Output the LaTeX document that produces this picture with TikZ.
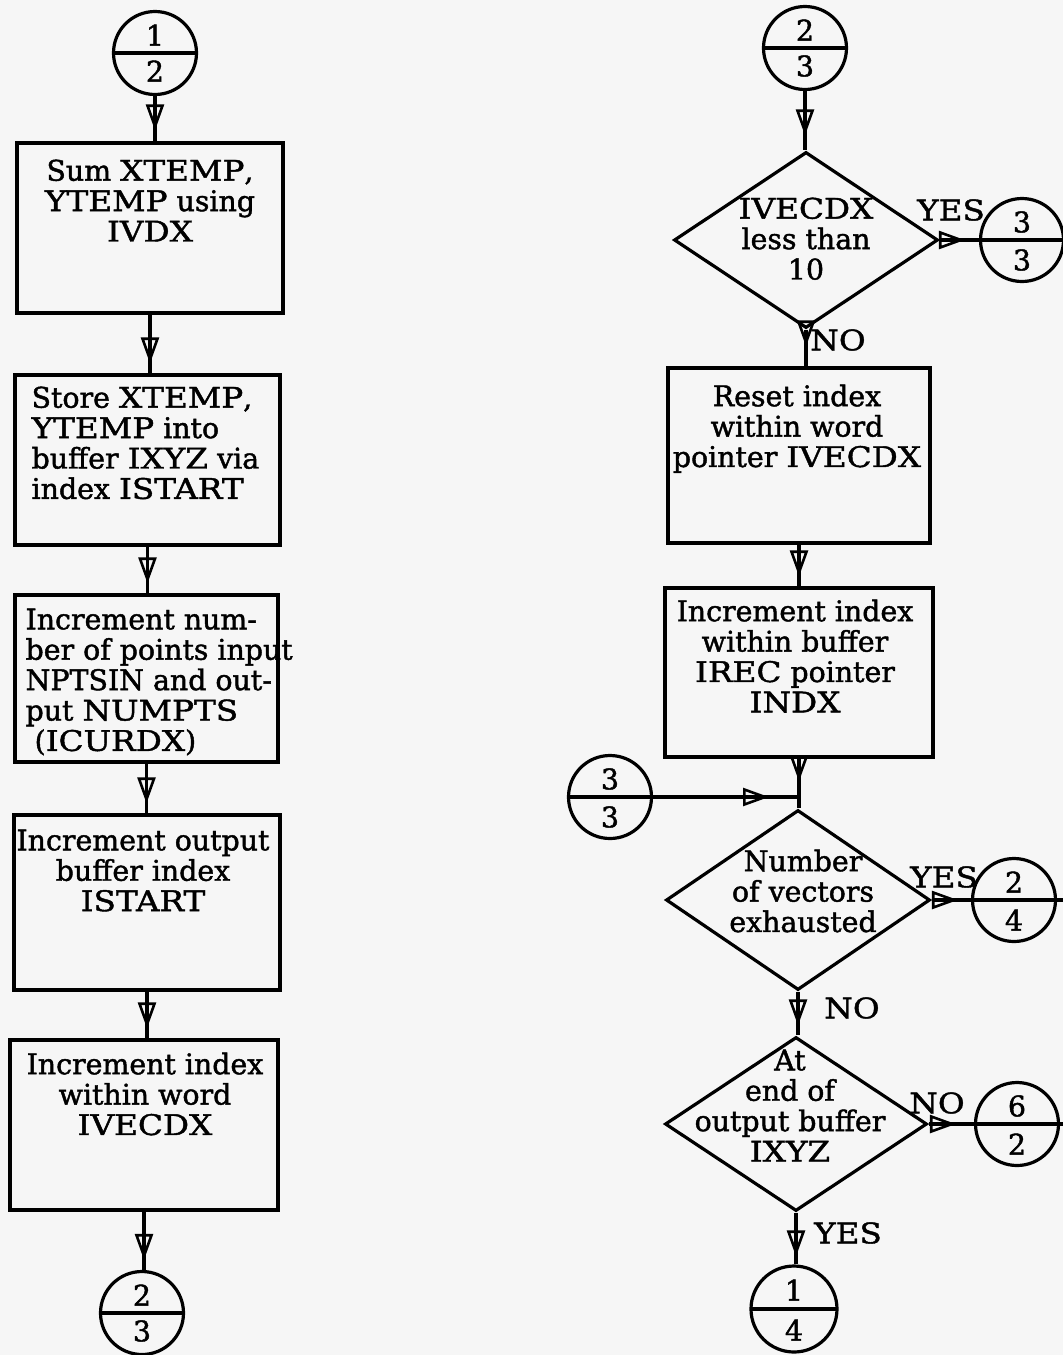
\documentclass[tikz,border=0pt]{standalone}
\usepackage{fontspec}
\setmainfont{DejaVu Serif}[FakeBold=1.5]
\newfontfamily\capfnt{DejaVu Serif}[FakeBold=1.5,FakeStretch=1.15]
\newcommand\capw[1]{{\capfnt #1}}
\usetikzlibrary{shapes.geometric,arrows.meta,decorations.markings,calc}
\begin{document}
\begin{tikzpicture}[x=0.5pt,y=-0.5pt,line width=1.6pt,
  box/.style={draw, rectangle, inner sep=0pt},
  dec/.style={draw, diamond, inner sep=0pt},
  conn/.style={draw, circle, inner sep=0pt, minimum size=#1,
    path picture={\draw[line width=1.6pt] (path picture bounding box.west) -- (path picture bounding box.east);}},
  conn/.default=41.5pt,
  txt/.style={inner sep=0pt, font=\fontsize{14.2}{15.2}\selectfont},
  flow/.style={draw, postaction={decorate},
    decoration={markings, mark=at position -#1 with {\arrow{Triangle[open,length=13pt,width=9pt,line width=1.3pt]}}}},
  flow/.default=5pt]
\fill[gray!7] (0,0) rectangle (1063,1355);
\useasboundingbox (0,0) rectangle (1063,1355);

% ---------- left column ----------
\node[conn] (c12) at (155,53) {};
\node[txt] (c12u) at (155,35) {1};
\node[txt] (c12l) at (155,71) {2};

\node[box, minimum width=133pt, minimum height=85pt] (b1) at (150,228) {};
\node[txt, align=center, anchor=north] (t1) at (150,158) {Sum \capw{XTEMP},\\\capw{YTEMP} using\\\capw{IVDX}};

\node[box, minimum width=132.5pt, minimum height=85pt] (b2) at (147.5,460) {};
\node[txt, align=left, anchor=north west] (t2) at (30,385) {Store \capw{XTEMP},\\\capw{YTEMP} into\\buffer \capw{IXYZ} via\\index \capw{ISTART}};

\node[box, minimum width=131.5pt, minimum height=83.5pt] (b3) at (146.5,678.5) {};
\node[txt, align=left, anchor=north west] (t3) at (24,607) {Increment num-\\ber of points input\\NPTSIN and out-\\put \capw{NUMPTS}\\\ (\capw{ICURDX})};

\node[box, minimum width=133pt, minimum height=87.5pt] (b4) at (147,902.5) {};
\node[txt, align=center, anchor=north] (t4) at (143,828) {Increment output\\buffer index\\\capw{ISTART}};

\node[box, minimum width=134pt, minimum height=85pt] (b5) at (144,1125) {};
\node[txt, align=center, anchor=north] (t5) at (145,1051) {Increment index\\within word\\\capw{IVECDX}};

\node[conn] (c23L) at (142,1313) {};
\node[txt] (c23Lu) at (142,1295) {2};
\node[txt] (c23Ll) at (142,1331) {3};

\draw[flow=5.5pt] (c12.south) -- (c12.south |- b1.north);
\draw[flow] (b1.south) -- (b1.south |- b2.north);
\draw[flow] (b2.south) -- (b2.south |- b3.north);
\draw[flow] (b3.south) -- (b3.south |- b4.north);
\draw[flow] (b4.south) -- (b4.south |- b5.north);
\draw[flow] (b5.south) -- (b5.south |- c23L.north);

% ---------- right column ----------
\node[conn] (c23R) at (805,48) {};
\node[txt] (c23Ru) at (805,30) {2};
\node[txt] (c23Rl) at (805,66) {3};

\node[dec, minimum width=132pt, minimum height=88pt] (d1) at (806,240) {};
\node[txt, align=center, anchor=north] (td1) at (806,196) {\capw{IVECDX}\\less than\\10};
\node[txt] (yes1) at (951,210) {\capw{YES}};
\node[txt] (no1) at (838,340) {\capw{NO}};

\node[conn] (c33R) at (1022,240) {};
\node[txt] (c33Ru) at (1022,222) {3};
\node[txt] (c33Rl) at (1022,260) {3};
\coordinate (e1) at (1063,240);

\node[box, minimum width=131pt, minimum height=87.5pt] (r1) at (799,455.5) {};
\node[txt, align=center, anchor=north] (tr1) at (797,383) {Reset index\\within word\\pointer \capw{IVECDX}};

\node[box, minimum width=134pt, minimum height=84.5pt] (r2) at (799,672.5) {};
\node[txt, align=center, anchor=north] (tr2) at (795,598) {Increment index\\within buffer\\\capw{IREC} pointer\\\capw{INDX}};

\node[conn] (c33L) at (610,797) {};
\node[txt] (c33Lu) at (610,779) {3};
\node[txt] (c33Ll) at (610,817) {3};
\coordinate (j) at (r2.south |- c33L);

\node[dec, minimum width=132pt, minimum height=90pt] (d2) at (798,900) {};
\node[txt, align=center, anchor=north] (td2) at (803,848) {Number\\of vectors\\exhausted};
\node[txt] (yes2) at (944,877) {\capw{YES}};
\node[txt] (no2) at (852,1008) {\capw{NO}};

\node[conn] (c24) at (1014,900) {};
\node[txt] (c24u) at (1014,882) {2};
\node[txt] (c24l) at (1014,920) {4};
\coordinate (e2) at (1063,900);

\node[dec, minimum width=131pt, minimum height=87pt] (d3) at (796,1124) {};
\node[txt, align=center, anchor=north] (td3) at (790,1048) {At\\end of\\output buffer\\\capw{IXYZ}};
\node[txt] (no3) at (937,1103) {\capw{NO}};
\node[txt] (yes3) at (848,1233) {\capw{YES}};

\node[conn] (c62) at (1017,1124) {};
\node[txt] (c62u) at (1017,1106) {6};
\node[txt] (c62l) at (1017,1144) {2};
\coordinate (e3) at (1063,1124);

\node[conn=43pt] (c14) at (794,1309) {};
\node[txt] (c14u) at (794,1290) {1};
\node[txt] (c14l) at (794,1330) {4};

\draw[flow=7.5pt] (c23R.south) -- (c23R.south |- d1.north);
\draw[flow=7pt] (d1.east) -- (c33R.west);
\draw (c33R.east) -- (e1);
\draw[flow=10pt] (d1.south) -- (d1.south |- r1.north);
\draw[flow] (r1.south) -- (r1.south |- r2.north);
\draw[flow=13.5pt] (r2.south) -- (r2.south |- d2.north);
\draw[flow=15pt] (c33L.east) -- (j);
\draw[flow=6.5pt] (d2.east) -- (c24.west);
\draw (c24.east) -- (e2);
\draw[flow] (d2.south) -- (d2.south |- d3.north);
\draw[flow=9pt] (d3.east) -- (c62.west);
\draw (c62.east) -- (e3);
\draw[flow=4pt] (d3.south) -- (d3.south |- c14.north);
\end{tikzpicture}
\end{document}
